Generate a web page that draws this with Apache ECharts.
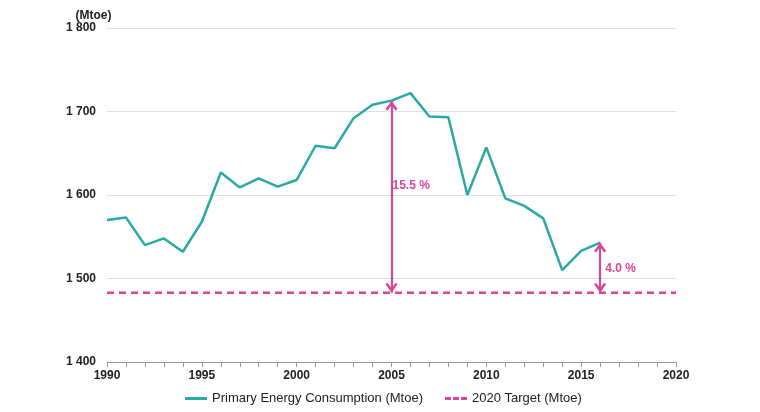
<!DOCTYPE html>
<html><head><meta charset="utf-8">
<script src="https://cdn.jsdelivr.net/npm/echarts@6/dist/echarts.min.js"></script>
<style>html,body{margin:0;padding:0;background:#fff}#c{width:760px;height:412px}</style>
</head><body><div id="c"></div>
<script>
const years = [1990,1991,1992,1993,1994,1995,1996,1997,1998,1999,2000,2001,2002,2003,2004,2005,2006,2007,2008,2009,2010,2011,2012,2013,2014,2015,2016];
const consumption = [1570,1573,1540,1548,1532,1568,1627,1609,1620,1610,1618,1659,1656,1692,1708,1713,1722,1694,1693,1600,1657,1596,1587,1572,1510,1533,1543];
const targetYears = [1990,2020];
const targetValue = 1483;
const gapLabels = ['15.5 %','4.0 %'];
const gapYears = [2005,2016];

const chevron = 'path://M0,8 L6,0 L12,8 L10.2,9.6 L6,4.4 L1.8,9.6 Z';
const solidIcon = 'path://M0,0h22v3h-22z';
const dashIcon = 'path://M0,0h6v3h-6z M8,0h6v3h-6z M16,0h6v3h-6z';
const font = 'Liberation Sans, Arial, sans-serif';
const labelOffsets = [[1,0],[5,12]];
const chart = echarts.init(document.getElementById('c'));
chart.setOption({
  animation:false,
  grid:{left:107,right:84,top:28,bottom:50},
  legend:{bottom:2,left:180,itemWidth:22,itemHeight:3,itemGap:22,
    textStyle:{fontFamily:font,fontSize:13,color:'#222'},
    data:[{name:'Primary Energy Consumption (Mtoe)',icon:solidIcon},{name:'2020 Target (Mtoe)',icon:dashIcon}]},
  xAxis:{type:'value',min:1990,max:2020,interval:5,
    axisLine:{lineStyle:{color:'#999',width:1}},
    axisTick:{show:true,length:5,lineStyle:{color:'#999'}},
    minorTick:{show:true,splitNumber:5,length:5,lineStyle:{color:'#999'}},
    splitLine:{show:false},
    axisLabel:{fontFamily:font,fontSize:12,fontWeight:'bold',color:'#222',margin:8,formatter:v=>String(v)}},
  yAxis:{type:'value',min:1400,max:1800,interval:100,name:'(Mtoe)',
    nameGap:6,nameTextStyle:{fontFamily:font,fontSize:12,fontWeight:'bold',color:'#222',align:'center',padding:[0,0,0,-27]},
    axisLine:{show:false},axisTick:{show:false},
    splitLine:{lineStyle:{color:'#e0e0e0',width:1}},
    axisLabel:{fontFamily:font,fontSize:12,fontWeight:'bold',color:'#222',margin:11,
      formatter:v=>String(v).replace(/\B(?=(\d{3})+(?!\d))/g,' ')}},
  series:[
    {name:'Primary Energy Consumption (Mtoe)',type:'line',symbol:'none',
      data:years.map((y,i)=>[y,consumption[i]]),
      lineStyle:{color:'#2BA9A4',width:2.5},itemStyle:{color:'#2BA9A4'}},
    {name:'2020 Target (Mtoe)',type:'line',symbol:'none',
      data:targetYears.map(y=>[y,targetValue]),
      lineStyle:{color:'#D6479B',width:2.5,type:[7,5]},itemStyle:{color:'#D6479B'},
      markLine:{silent:true,symbol:[chevron,chevron],symbolSize:[12,10],symbolOffset:[[0,5],[0,5]],
        lineStyle:{color:'#D6479B',width:2.2,type:'solid'},
        label:{show:true,position:'middle',formatter:p=>p.name,
          fontFamily:font,fontSize:12,fontWeight:'bold',color:'#D6479B',align:'left',rotate:0},
        data:gapYears.map((y,i)=>[
          {name:gapLabels[i],coord:[y,consumption[years.indexOf(y)]],label:{offset:labelOffsets[i]}},
          {coord:[y,targetValue]}])}}
  ]
});
</script></body></html>
